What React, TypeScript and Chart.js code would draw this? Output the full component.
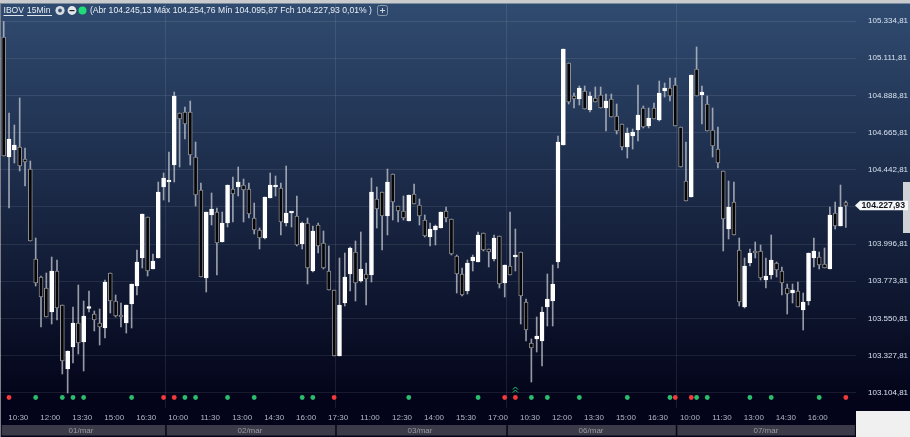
import React, { useEffect, useRef } from "react";
import { Chart, registerables } from "chart.js";

Chart.register(...registerables);

const opens = [105239,104519,104561,104579,104507,104447,103907,103799,103733,103589,103835,103631,103247,103379,103523,103409,103610,103577,103523,103493,103823,103655,103565,103523,103637,103745,103913,104159,103847,103913,104339,104369,104471,104783,104789,104789,104519,104321,103793,104171,104189,104009,104123,104327,104339,104351,104327,104153,104081,104033,104273,104339,104333,104123,104183,104165,103997,104123,103835,104111,104003,103835,103721,103325,103643,103817,103949,103775,103817,103811,104267,104309,104165,104417,104225,104195,104135,104297,104231,104141,104039,104081,104093,104195,104147,103925,103817,103715,103895,103889,104063,103967,103907,104045,103763,103865,103919,103949,103649,103403,103427,103415,103619,103655,103889,104591,105083,104885,104867,104915,104801,104873,104891,104813,104867,104765,104717,104579,104645,104681,104813,104705,104813,104741,104915,104933,104951,104699,104375,104279,105047,104891,104837,104681,104567,104435,104087,104249,103961,103619,103883,103949,103955,103781,103811,103883,103835,103733,103703,103715,103601,103655,103913,103919,103877,103847,104183,104105,104245.13];
const highs = [105332,104783,104711,104873,104573,104495,104033,103805,103823,103919,103901,103631,103355,103619,103751,103655,103715,103595,103607,103781,103823,103691,103643,103631,103757,103961,104177,104159,103937,104369,104423,104549,104909,104783,104819,104855,104609,104363,104189,104303,104213,104189,104351,104399,104459,104387,104363,104243,104093,104279,104423,104405,104363,104465,104189,104285,104129,104153,104105,104123,104075,103985,103721,103913,103943,103979,104015,104069,103883,104393,104339,104309,104447,104417,104225,104285,104291,104357,104267,104171,104123,104111,104189,104219,104147,103931,103853,103901,103931,104069,104063,103967,104051,104045,103871,104189,104087,103949,103667,103427,103559,103619,103817,103871,104645,105167,105083,104903,104945,104945,104909,104939,104939,104897,104897,104837,104717,104693,104687,104951,104825,104813,104843,104975,104963,104993,104993,104699,104609,105011,105179,104945,104885,104813,104699,104435,104375,104369,104033,103913,103967,104009,103991,103913,104051,103889,103859,103757,103757,103769,103703,103943,104033,103949,103973,104219,104249,104351,104254.76];
const lows = [104525,104213,104483,104435,104345,104015,103745,103499,103559,103517,103541,103217,103103,103283,103337,103235,103589,103475,103391,103433,103583,103559,103499,103463,103493,103691,103853,103805,103847,103913,104261,104249,104369,104459,104627,104471,104225,103799,103709,104111,103811,104009,104099,104129,104285,104129,104153,104057,103967,104027,104273,104285,104051,104105,104099,103985,103967,103757,103829,103943,103847,103721,103325,103325,103625,103715,103655,103769,103631,103769,104093,103961,104051,104141,104129,104141,104135,104237,104111,104039,103985,103991,104093,104129,103931,103703,103685,103697,103835,103889,103955,103859,103895,103733,103679,103811,103835,103517,103415,103169,103349,103265,103505,103505,103853,104591,104837,104813,104831,104807,104789,104849,104813,104675,104759,104657,104561,104513,104567,104615,104693,104693,104747,104735,104879,104855,104705,104459,104255,104279,104885,104717,104675,104519,104453,103955,104027,104051,103625,103613,103865,103913,103781,103733,103787,103799,103691,103577,103643,103619,103481,103631,103859,103847,103853,103847,104087,104105,104095.87];
const closes = [104525,104627,104591,104465,104489,104015,103763,103679,103559,103835,103613,103295,103355,103523,103403,103565,103616,103541,103499,103769,103655,103565,103559,103631,103757,103889,104177,103835,103895,104309,104393,104375,104885,104747,104717,104531,104291,103799,104189,104207,104003,104123,104351,104297,104369,104321,104177,104081,104033,104279,104351,104351,104129,104183,104189,103991,104123,103853,104075,103985,103853,103721,103325,103631,103799,103973,103763,103847,103787,104309,104207,104165,104369,104249,104195,104153,104291,104237,104165,104045,104087,104105,104189,104153,103937,103817,103691,103883,103919,104051,103961,103949,104033,103757,103871,103811,103925,103685,103481,103373,103445,103589,103667,103757,104609,105167,104849,104867,104933,104807,104885,104849,104813,104855,104759,104675,104579,104663,104669,104771,104699,104753,104747,104903,104933,104885,104705,104459,104255,105011,104885,104909,104675,104585,104483,104147,104219,104051,103649,103865,103943,103943,103793,103805,103901,103841,103763,103697,103721,103619,103649,103943,103955,103871,103853,104171,104105,104219,104227.93];

const priceTicks = [105334.81,105111.81,104888.81,104665.81,104442.81,104219.81,103996.81,103773.81,103550.81,103327.81,103104.81];
const timeLabels = ["10:30","12:00","13:30","15:00","16:30","10:00","11:30","13:00","14:30","16:00","17:30","11:00","12:30","14:00","15:30","17:00","10:30","12:00","13:30","15:00","16:30","10:00","11:30","13:00","14:30","16:00"];
const dayLabels = ["01/mar","02/mar","03/mar","06/mar","07/mar"];
const dayCentres = [14.5,46.2,78.1,110.2,143];
const dayEdges = [-0.37,30.3,62.2,94.3,126.1,159.7];
const greenMarks = [6,11,13,15,24,34,36,42,47,56,58,76,89,99,102,108,117,125,130,132,140,144,153];
const redMarks = [1,30,32,62,94,96,126,129,158];
const markerPrice = 103076;
const chevronIndex = 96;
const chevronPrice = 103118;

const fmt = (v: number) =>
  v.toLocaleString("pt-BR", { minimumFractionDigits: 2, maximumFractionDigits: 2 });

const FONT = '"Liberation Sans", Arial, sans-serif';
const W = 910;
const H = 437;

const noPad = (s: any) => {
  s.paddingTop = 0;
  s.paddingBottom = 0;
  s.paddingLeft = 0;
  s.paddingRight = 0;
};

const frame = {
  id: "frame",
  beforeDraw(c: any) {
    const { ctx, scales } = c;
    const g = ctx.createLinearGradient(0, 4, 0, 400);
    g.addColorStop(0, "#304b70");
    g.addColorStop(1, "#030419");
    ctx.save();
    ctx.fillStyle = g;
    ctx.fillRect(0, 0, W, H);
    ctx.fillStyle = "#c9cbcd";
    ctx.fillRect(0, 0, W, 3.5);
    ctx.fillStyle = "#3a3a48";
    for (let i = 0; i < dayLabels.length; i++) {
      const a = scales.x.getPixelForValue(dayEdges[i]) + (i ? 1.5 : 0);
      const b = scales.x.getPixelForValue(dayEdges[i + 1]);
      ctx.fillRect(a, 425, b - a, 10.5);
    }
    ctx.strokeStyle = "rgba(255,255,255,0.09)";
    ctx.lineWidth = 1;
    for (let i = 1; i < dayEdges.length - 1; i++) {
      const x = Math.round(scales.x.getPixelForValue(dayEdges[i])) + 0.5;
      ctx.beginPath();
      ctx.moveTo(x, 4);
      ctx.lineTo(x, 408);
      ctx.stroke();
    }
    ctx.strokeStyle = "#7d8088";
    ctx.beginPath();
    ctx.moveTo(0.5, 4);
    ctx.lineTo(0.5, H);
    ctx.stroke();
    ctx.restore();
  },
  afterDraw(c: any) {
    const { ctx, scales } = c;
    ctx.save();
    ctx.fillStyle = "#f0f0f0";
    ctx.fillRect(856, 411, 54, 26);
    ctx.fillStyle = "#cfd2d6";
    ctx.fillRect(903, 182, 7, 51);
    const last = closes[closes.length - 1];
    const ty = scales.y.getPixelForValue(last);
    ctx.fillStyle = "#f4f6f8";
    ctx.beginPath();
    ctx.moveTo(855, ty);
    ctx.lineTo(860, ty - 4.7);
    ctx.lineTo(908, ty - 4.7);
    ctx.lineTo(908, ty + 4.7);
    ctx.lineTo(860, ty + 4.7);
    ctx.closePath();
    ctx.fill();
    ctx.fillStyle = "#10131c";
    ctx.font = `bold 8.7px ${FONT}`;
    ctx.textAlign = "left";
    ctx.textBaseline = "middle";
    ctx.fillText(fmt(last), 861.5, ty + 0.5);

    const cx = scales.x.getPixelForValue(chevronIndex);
    const cy = scales.y.getPixelForValue(chevronPrice);
    ctx.strokeStyle = "#1fd07a";
    ctx.lineWidth = 1;
    for (const d of [-3, 0]) {
      ctx.beginPath();
      ctx.moveTo(cx - 2.5, cy + d + 2);
      ctx.lineTo(cx, cy + d - 0.5);
      ctx.lineTo(cx + 2.5, cy + d + 2);
      ctx.stroke();
    }

    ctx.textBaseline = "middle";
    ctx.fillStyle = "#e8eef5";
    ctx.font = `8.6px ${FONT}`;
    ctx.fillText("IBOV", 3.5, 10.5);
    ctx.fillText("15Min", 27, 10.5);
    ctx.strokeStyle = "#dfe6ee";
    ctx.beginPath();
    ctx.moveTo(3.5, 15.5);
    ctx.lineTo(23.5, 15.5);
    ctx.moveTo(27, 15.5);
    ctx.lineTo(52, 15.5);
    ctx.stroke();
    ctx.fillText("(Abr 104.245,13 Máx 104.254,76 Mín 104.095,87 Fch 104.227,93 0,01% )", 90, 10.5);
    ctx.fillStyle = "#d8dde3";
    ctx.beginPath();
    ctx.arc(60, 10.5, 4.6, 0, Math.PI * 2);
    ctx.fill();
    ctx.fillStyle = "#3c5476";
    ctx.beginPath();
    ctx.arc(60, 10.5, 1.9, 0, Math.PI * 2);
    ctx.fill();
    ctx.fillStyle = "#e4e7ea";
    ctx.beginPath();
    ctx.arc(72, 10.5, 4.4, 0, Math.PI * 2);
    ctx.fill();
    ctx.fillStyle = "#222";
    ctx.fillRect(69.5, 10, 5, 1.2);
    ctx.fillStyle = "#1fdc78";
    ctx.beginPath();
    ctx.arc(82.5, 10.5, 4, 0, Math.PI * 2);
    ctx.fill();
    ctx.strokeStyle = "#8c99ab";
    ctx.beginPath();
    ctx.roundRect(377.5, 5.5, 10, 10, 2);
    ctx.stroke();
    ctx.strokeStyle = "#c8d0da";
    ctx.beginPath();
    ctx.moveTo(380, 10.5);
    ctx.lineTo(385, 10.5);
    ctx.moveTo(382.5, 8);
    ctx.lineTo(382.5, 13);
    ctx.stroke();
    ctx.restore();
  },
};

export default function App() {
  const ref = useRef<HTMLCanvasElement | null>(null);
  useEffect(() => {
    document.body.style.margin = "0";
    document.body.style.background = "#030419";
    const idx = opens.map((_, i) => i);
    const up = idx.map((i) => closes[i] >= opens[i]);
    const chart = new Chart(ref.current as HTMLCanvasElement, {
      type: "bar",
      data: {
        datasets: [
          {
            type: "scatter",
            data: greenMarks.map((i) => ({ x: i, y: markerPrice })),
            backgroundColor: "#2bbd6e",
            borderWidth: 0,
            pointRadius: 2.4,
            order: 1,
          },
          {
            type: "scatter",
            data: redMarks.map((i) => ({ x: i, y: markerPrice })),
            backgroundColor: "#f23a3a",
            borderWidth: 0,
            pointRadius: 2.4,
            order: 1,
          },
          {
            data: idx.map((i) => ({ x: i, y: [opens[i], closes[i]] })),
            backgroundColor: up.map((u) => (u ? "#ffffff" : "#050508")),
            borderColor: up.map((u) => (u ? "#ffffff" : "#8e8e90")),
            borderWidth: 1,
            borderSkipped: false,
            barThickness: 4,
            minBarLength: 2,
            grouped: false,
            order: 2,
          },
          {
            data: idx.map((i) => ({ x: i, y: [lows[i], highs[i]] })),
            backgroundColor: "rgba(205,208,214,0.72)",
            borderWidth: 0,
            barThickness: 1,
            grouped: false,
            order: 3,
          },
        ],
      } as any,
      options: {
        animation: false,
        responsive: false,
        devicePixelRatio: 1,
        layout: { autoPadding: false, padding: { top: 4, left: 0, right: 0, bottom: 0 } },
        plugins: { legend: { display: false }, tooltip: { enabled: false } },
        scales: {
          x: {
            type: "linear",
            offset: false,
            min: -0.694,
            max: 159.906,
            weight: 0,
            grid: { display: false, drawTicks: false },
            border: { display: false },
            afterFit: (s: any) => { s.height = 16.5; noPad(s); },
            afterBuildTicks: (s: any) => {
              s.ticks = timeLabels.map((_, k) => ({ value: 2.74 + 6 * k }));
            },
            ticks: {
              autoSkip: false,
              maxRotation: 0,
              padding: 5,
              color: "#b0b8c3",
              font: { family: FONT, size: 8 },
              callback: (_v: any, i: number) => timeLabels[i],
            },
          },
          x2: {
            type: "linear",
            position: "bottom",
            offset: false,
            min: -0.694,
            max: 159.906,
            weight: 1,
            grid: { display: false, drawTicks: false },
            border: { display: false },
            afterFit: (s: any) => { s.height = 12.5; noPad(s); },
            afterBuildTicks: (s: any) => {
              s.ticks = dayCentres.map((value) => ({ value }));
            },
            ticks: {
              autoSkip: false,
              maxRotation: 0,
              padding: 1,
              color: "#9b9ba3",
              font: { family: FONT, size: 8 },
              callback: (_v: any, i: number) => dayLabels[i],
            },
          },
          y: {
            type: "linear",
            position: "right",
            min: 103013,
            max: 105437,
            grid: {
              color: "rgba(255,255,255,0.085)",
              lineWidth: 1,
              drawTicks: false,
            },
            border: { display: false },
            afterFit: (s: any) => { s.width = 54; noPad(s); },
            afterBuildTicks: (s: any) => {
              s.ticks = priceTicks.map((value) => ({ value }));
            },
            ticks: {
              padding: 12,
              color: "#d6e1ef",
              font: { family: FONT, size: 8 },
              callback: (v: any) => fmt(Number(v)),
            },
          },
        },
      } as any,
      plugins: [frame],
    });
    return () => chart.destroy();
  }, []);
  return (
    <canvas
      ref={ref}
      width={W}
      height={H}
      style={{ position: "fixed", left: 0, top: 0, display: "block" }}
    />
  );
}
